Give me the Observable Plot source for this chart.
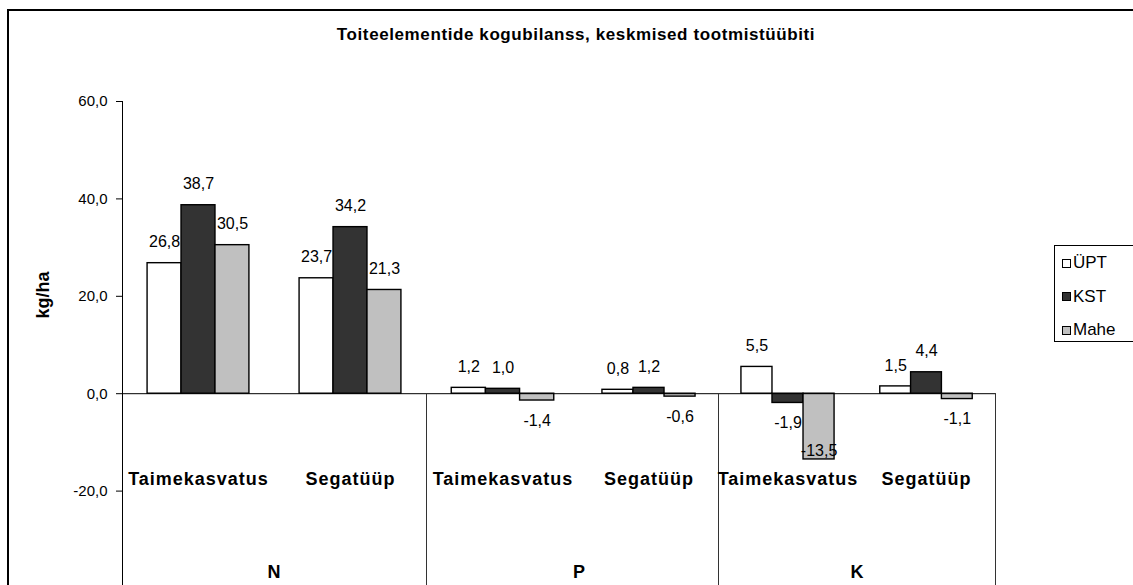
<!DOCTYPE html>
<html><head><meta charset="utf-8">
<script src="https://cdn.jsdelivr.net/npm/d3@7"></script>
<script src="https://cdn.jsdelivr.net/npm/@observablehq/plot@0.6"></script>
<style>
html,body{margin:0;padding:0;overflow:hidden;background:#fff;width:1133px;height:585px}
#wrap{position:relative;width:1133px;height:585px;overflow:hidden;font-family:"Liberation Sans",Arial,sans-serif;color:#000}
#border{position:absolute;left:7px;top:9px;width:1300px;height:800px;border:2px solid #000;box-sizing:border-box}
#chart{position:absolute;left:0;top:0;width:1133px;height:600px}
#chart svg{max-width:none !important;height:600px !important}
#title{position:absolute;left:0;width:1152px;top:25px;text-align:center;font-weight:bold;font-size:17px;line-height:20px;letter-spacing:0.6px}
#ylab{position:absolute;left:43px;top:295px;transform:translate(-50%,-50%) rotate(-90deg);font-weight:bold;font-size:18px;white-space:nowrap}
#legend{position:absolute;left:1054px;top:245px;width:200px;height:97px;border:1px solid #000;box-sizing:border-box;background:#fff}
.item{position:absolute;left:7px;font-size:17px;line-height:20px;display:flex;align-items:center;white-space:nowrap}
.sw{width:7px;height:7px;border:1px solid #000;margin-right:2px}
</style></head>
<body>
<div id="wrap">
  <div id="border"></div>
  <div id="chart"></div>
  <div id="title">Toiteelementide kogubilanss, keskmised tootmistüübiti</div>
  <div id="ylab">kg/ha</div>
  <div id="legend"></div>
</div>
<script>
// ---- data ----
const elements = ["N", "P", "K"];
const farmTypes = ["Taimekasvatus", "Segatüüp"];
const seriesNames = ["ÜPT", "KST", "Mahe"];
const seriesColors = ["#ffffff", "#333333", "#c0c0c0"];
const uptValues  = [26.8, 23.7, 1.2, 0.8, 5.5, 1.5];
const kstValues  = [38.7, 34.2, 1.0, 1.2, -1.9, 4.4];
const maheValues = [30.5, 21.3, -1.4, -0.6, -13.5, -1.1];
const yTicks = [-20, 0, 20, 40, 60];

// ---- table ----
const seriesValues = [uptValues, kstValues, maheValues];
const categories = [];
elements.forEach(el => farmTypes.forEach(ft => categories.push({el, ft})));
const rows = [];
seriesValues.forEach((vals, j) => vals.forEach((v, i) => rows.push({i, j, series: seriesNames[j], value: v})));
const cats = categories.map((c, i) => ({...c, i}));
const groups = elements.map((el, k) => ({el, k}));

const pad = 0.165, bw = (1 - 2 * pad) / 3;
const fmt = v => v.toFixed(1).replace(".", ",");
const font = '"Liberation Sans", Arial, sans-serif';

const chart = Plot.plot({
  width: 1133,
  height: 600,
  marginLeft: 122,
  marginTop: 101,
  marginBottom: 12,
  marginRight: 0,
  style: {fontFamily: font, fontSize: "15px", background: "transparent", color: "#000", maxWidth: "none"},
  x: {type: "linear", domain: [0, 1, 2, 3, 4, 5, 6], range: [122, 274, 426, 579, 718, 857, 995], axis: null},
  y: {domain: [-40, 60], axis: null, label: null},
  color: {domain: seriesNames, range: seriesColors},
  marks: [
    Plot.rect(rows, {
      x1: d => d.i + pad + d.j * bw,
      x2: d => d.i + pad + (d.j + 1) * bw,
      y1: 0, y2: "value",
      fill: "series", stroke: "#000", strokeWidth: 1.4
    }),
    Plot.ruleY([0], {x1: 0, x2: 6, stroke: "#000", strokeWidth: 1}),
    // minor separators (farm type)
    Plot.ruleX(cats.filter(c => c.i % 2 === 1), {x: d => d.i + 1, y1: 0, y2: -20.5, stroke: "#333", strokeWidth: 1}),
    // major separators (element)
    Plot.ruleX(groups, {x: d => 2 * d.k + 2, y1: 0, y2: -40, stroke: "#333", strokeWidth: 1}),
    Plot.ruleX([0], {y1: -40, y2: 60, stroke: "#000", strokeWidth: 1}),
    Plot.axisY({ticks: yTicks, tickSize: 6, tickPadding: 9, tickFormat: fmt, fontSize: 15, stroke: "#000", label: null}),
    // value labels
    Plot.text(rows.filter(d => d.value >= 0), {
      x: d => d.i + pad + (d.j + 0.5) * bw, y: "value", text: d => fmt(d.value), dy: -21, fontSize: 16, fill: "#000"
    }),
    Plot.text(rows.filter(d => d.value < 0 && d.value > -10), {
      x: d => d.i + pad + (d.j + 0.5) * bw, y: "value", text: d => fmt(d.value), dy: 20, fontSize: 16, fill: "#000"
    }),
    Plot.text(rows.filter(d => d.value <= -10), {
      x: d => d.i + pad + (d.j + 0.5) * bw, y: "value", text: d => fmt(d.value), dy: -9, fontSize: 16, fill: "#000"
    }),
    // category labels
    Plot.text(cats, {x: d => d.i + 0.5, y: 0, dy: 86, text: "ft", fontSize: 18, fontWeight: "bold", fill: "#000"}),
    Plot.text(groups, {x: d => 2 * d.k + 1, y: 0, dy: 179, text: "el", fontSize: 18, fontWeight: "bold", fill: "#000"})
  ]
});
chart.querySelectorAll("text").forEach(t => {
  if (t.getAttribute("font-size") === "18" || t.closest('[font-size="18"]')) t.setAttribute("letter-spacing", "1");
});
document.getElementById("chart").appendChild(chart);

// legend
const legend = document.getElementById("legend");
seriesNames.forEach((s, j) => {
  const it = document.createElement("div");
  it.className = "item";
  it.style.top = (7 + j * 33.5) + "px";
  it.innerHTML = `<span class="sw" style="background:${seriesColors[j]}"></span><span>${s}</span>`;
  legend.appendChild(it);
});
</script>
</body></html>
